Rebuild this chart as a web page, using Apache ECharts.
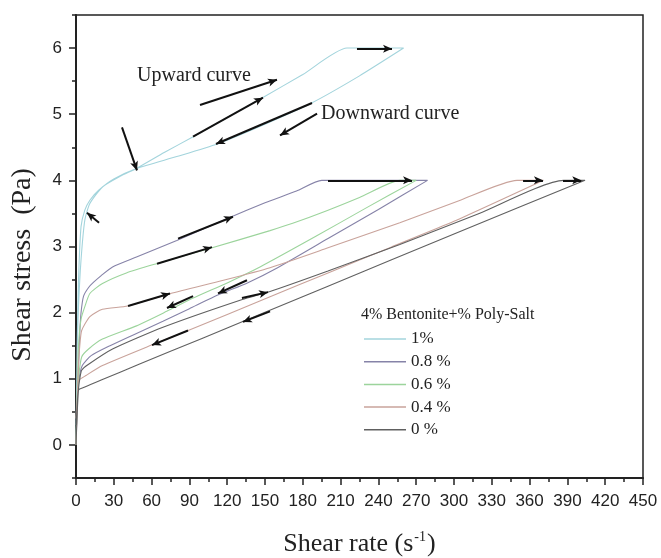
<!DOCTYPE html>
<html>
<head>
<meta charset="utf-8">
<script src="https://cdn.jsdelivr.net/npm/echarts@6/dist/echarts.min.js"></script>
<style>
  html, body { margin: 0; padding: 0; background: #fff; }
  #chart { width: 661px; height: 558px; }
</style>
</head>
<body>
<div id="chart"></div>
<script>
// shear rate (s^-1), shear stress (Pa) — each loop: upward curve, plateau, downward curve
const loop1 = [
  [0, 0], [0.5, 0.8], [1, 1.5], [2, 2.1], [4, 2.8], [7, 3.4], [11, 3.65], [21, 3.9], [35, 4.06],
  [48, 4.18], [70, 4.42], [93, 4.66], [120, 4.95], [148, 5.25], [180, 5.6], [215, 6.0], [260, 6.0],
  [225, 5.58], [187, 5.17], [150, 4.85], [112, 4.55], [80, 4.36], [48, 4.18], [30, 4.02], [18, 3.85],
  [11, 3.7], [7, 3.55], [4, 3.3], [2, 2.5], [1, 1.6], [0.4, 0.7], [0, 0.3]
];
const loop08 = [
  [0, 0], [1, 0.6], [2, 1.2], [3, 1.7], [4, 2.0], [6, 2.25], [10, 2.38], [14, 2.46], [20, 2.56],
  [29, 2.69], [48, 2.84], [80, 3.09], [122, 3.44], [150, 3.66], [175, 3.84], [195, 4.0], [279, 4.0],
  [240, 3.56], [200, 3.12], [160, 2.68], [136, 2.45], [113, 2.27], [90, 2.06], [69, 1.87], [45, 1.66],
  [27, 1.5], [12, 1.35], [5, 1.2], [2, 0.95], [0.5, 0.5]
];
const loop06 = [
  [0, 0], [1, 0.8], [2, 1.5], [4, 1.9], [7, 2.09], [11, 2.29], [21, 2.44], [40, 2.6], [64, 2.74],
  [106, 2.97], [154, 3.24], [172, 3.35], [199, 3.54], [225, 3.74], [257, 4.0], [270, 4.0],
  [230, 3.58], [190, 3.15], [146, 2.69], [120, 2.45], [93, 2.22], [72, 2.02], [48, 1.8], [21, 1.6],
  [10, 1.45], [4.5, 1.33], [2, 1.0], [0.5, 0.5]
];
const loop04 = [
  [0, 0], [1, 0.7], [2, 1.2], [3, 1.5], [4.5, 1.73], [11, 1.94], [21, 2.05], [41, 2.1], [75, 2.29],
  [117, 2.49], [154, 2.68], [200, 2.98], [257, 3.36], [305, 3.7], [350, 4.0], [371, 4.0],
  [300, 3.38], [250, 2.99], [200, 2.6], [154, 2.24], [89, 1.73], [60, 1.51], [21, 1.2], [8, 1.05],
  [2, 0.97], [1, 0.7], [0, 0.4]
];
const loop0 = [
  [0, 0], [1, 0.5], [2, 0.85], [3, 1.0], [4.5, 1.13], [10, 1.22], [29, 1.45], [69, 1.78], [132, 2.2],
  [154, 2.32], [200, 2.63], [257, 3.03], [320, 3.5], [387, 4.0], [404, 4.0],
  [300, 3.19], [200, 2.4], [100, 1.61], [50, 1.22], [20, 0.98], [5, 0.86], [2, 0.83], [1, 0.6], [0, 0.3]
];

const seriesNames = ['1%', '0.8 %', '0.6 %', '0.4 %', '0 %'];
const seriesColors = ['#a3d4dc', '#8683a8', '#9cd49c', '#c9a39b', '#606060'];
const seriesData = [loop1, loop08, loop06, loop04, loop0];

// direction arrows [from, to] in data coordinates
const arrows = [
  [[98.4, 5.14], [159.5, 5.52]],
  [[92.9, 4.66], [148.4, 5.25]],
  [[187.3, 5.17], [111.1, 4.55]],
  [[191.3, 5.01], [161.9, 4.68]],
  [[36.5, 4.80], [48.4, 4.15]],
  [[18.3, 3.36], [8.7, 3.51]],
  [[223, 5.99], [250.8, 5.99]],
  [[81, 3.12], [124.6, 3.45]],
  [[64.3, 2.74], [107.9, 2.99]],
  [[200, 4.0], [266.7, 4.0]],
  [[354.8, 4.0], [370.6, 4.0]],
  [[386.5, 4.0], [401, 4.0]],
  [[41.3, 2.10], [74.6, 2.29]],
  [[92.9, 2.25], [72.2, 2.07]],
  [[135.7, 2.49], [112.7, 2.29]],
  [[131.7, 2.22], [152.4, 2.31]],
  [[88.9, 1.73], [60.3, 1.51]],
  [[154, 2.02], [132.5, 1.86]]
];

const yMajor = [0, 1, 2, 3, 4, 5, 6];
const yMinor = [-0.5, 0.5, 1.5, 2.5, 3.5, 4.5, 5.5, 6.5];

const chart = echarts.init(document.getElementById('chart'), null, { renderer: 'canvas' });

const series = seriesData.map((d, i) => ({
  name: seriesNames[i],
  type: 'line',
  data: d,
  showSymbol: false,
  smooth: 0.2,
  lineStyle: { width: 1.1, color: seriesColors[i] },
  itemStyle: { color: seriesColors[i] },
  z: 2
}));

series.push({
  name: 'arrows',
  type: 'line',
  data: [],
  markLine: {
    silent: true,
    symbol: ['none', 'arrow'],
    symbolSize: [6, 9],
    label: { show: false },
    lineStyle: { color: '#111', width: 2, type: 'solid' },
    emphasis: { disabled: true },
    data: arrows.map(a => [{ coord: a[0] }, { coord: a[1] }])
  },
  z: 3
});

chart.setOption({
  animation: false,
  backgroundColor: '#fff',
  grid: {
    left: 76, right: 18, top: 15, bottom: 80,
    outerBoundsMode: 'none',
    containLabel: false,
    show: true, borderColor: '#222', borderWidth: 1.5
  },
  xAxis: {
    type: 'value',
    min: 0, max: 450, interval: 30,
    axisLine: { show: true, onZero: false, lineStyle: { color: '#222', width: 2 } },
    axisTick: { show: true, inside: false, length: 7, lineStyle: { color: '#222', width: 1.5 } },
    minorTick: { show: true, splitNumber: 2, length: 4, lineStyle: { color: '#222', width: 1.5 } },
    splitLine: { show: false },
    axisLabel: { margin: 15, color: '#222', fontSize: 17, fontFamily: 'Liberation Sans, Arial, sans-serif' },
    name: '{b|Shear rate (s}{s|-1}{b|)}',
    nameLocation: 'middle',
    nameGap: 52,
    nameTextStyle: {
      rich: {
        b: { fontFamily: 'Liberation Serif, Times New Roman, serif', fontSize: 26, color: '#222' },
        s: { fontFamily: 'Liberation Serif, Times New Roman, serif', fontSize: 14, color: '#222', verticalAlign: 'top', padding: [0, 1, 14, 1] }
      }
    }
  },
  yAxis: [
    {
      type: 'value',
      position: 'left',
      min: -0.5, max: 6.5,
      axisLine: { show: true, onZero: false, lineStyle: { color: '#222', width: 2 } },
      axisTick: { show: true, length: 7, customValues: yMajor, lineStyle: { color: '#222', width: 1.5 } },
      splitLine: { show: false },
      axisLabel: { margin: 14, color: '#222', fontSize: 17, fontFamily: 'Liberation Sans, Arial, sans-serif', customValues: yMajor }
    },
    {
      type: 'value',
      position: 'left',
      min: -0.5, max: 6.5,
      axisLine: { show: false, onZero: false },
      axisTick: { show: true, length: 4, customValues: yMinor, lineStyle: { color: '#222', width: 1.5 } },
      splitLine: { show: false },
      axisLabel: { show: false }
    }
  ],
  legend: {
    data: seriesNames,
    orient: 'vertical',
    left: 359,
    top: 325,
    icon: 'rect',
    itemWidth: 42,
    itemHeight: 1.5,
    itemGap: 4.7,
    selectedMode: false,
    textStyle: { fontFamily: 'Liberation Serif, Times New Roman, serif', fontSize: 17, color: '#222', lineHeight: 18 }
  },
  graphic: [
    {
      type: 'text', x: 23, y: 265, rotation: Math.PI / 2,
      style: { text: 'Shear stress  (Pa)', font: '28px "Liberation Serif", serif', fill: '#222', align: 'center', verticalAlign: 'middle' }
    },
    {
      type: 'text', left: 361, top: 307,
      style: { text: '4% Bentonite+% Poly-Salt', font: '16px "Liberation Serif", serif', fill: '#222' }
    },
    {
      type: 'text', left: 137, top: 66,
      style: { text: 'Upward curve', font: '20px "Liberation Serif", serif', fill: '#222' }
    },
    {
      type: 'text', left: 321, top: 104,
      style: { text: 'Downward curve', font: '20px "Liberation Serif", serif', fill: '#222' }
    }
  ],
  series: series
});
</script>
</body>
</html>
